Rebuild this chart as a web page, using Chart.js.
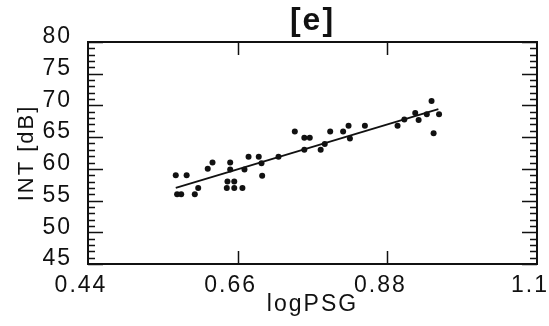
<!DOCTYPE html>
<html>
<head>
<meta charset="utf-8">
<script src="https://cdn.jsdelivr.net/npm/chart.js@4"></script>
<style>
html, body { margin: 0; padding: 0; background: #fff; }
#chart { display: block; }
</style>
</head>
<body>
<canvas id="chart" width="549" height="326"></canvas>
<script>
const logPSG = [0.569, 0.585, 0.571, 0.577, 0.597, 0.602, 0.616, 0.623, 0.649, 0.649,
                0.645, 0.655, 0.644, 0.655, 0.667, 0.670, 0.676, 0.691, 0.695, 0.696,
                0.720, 0.744, 0.758, 0.766, 0.758, 0.782, 0.788, 0.796, 0.815, 0.823,
                0.825, 0.847, 0.895, 0.905, 0.921, 0.926, 0.938, 0.945, 0.948, 0.956];
const intDB  = [59.0, 59.0, 56.0, 56.0, 56.0, 57.0, 60.0, 61.0, 61.0, 59.9,
                58.0, 58.0, 57.0, 57.0, 57.0, 59.9, 61.9, 61.9, 60.9, 58.9,
                61.9, 65.9, 64.9, 64.9, 63.0, 63.0, 63.9, 65.9, 65.9, 66.8,
                64.8, 66.8, 66.8, 67.8, 68.8, 67.7, 68.6, 70.7, 65.6, 68.6];

// regression line ends
const fitX = [0.569, 0.955];
const fitY = [57.0, 69.4];

const xTicks = [0.44, 0.66, 0.88, 1.1];
const xTickLabels = ['0.44', '0.66', '0.88', '1.1'];
const yMin = 45, yMax = 80, yStep = 5, yMinorStep = 1;

const ink = '#111';
const family = '"Liberation Sans", Arial, Helvetica, sans-serif';

// box round the plot, ticks pointing inwards
const frame = {
    id: 'frame',
    beforeUpdate(chart) { chart.ctx.letterSpacing = '2px'; },
    beforeDraw(chart) { chart.ctx.letterSpacing = '2px'; },
    afterDatasetsDraw(chart) {
        const {ctx, chartArea: a, scales: {x, y}} = chart;
        ctx.save();
        ctx.strokeStyle = ink;
        ctx.lineWidth = 2;
        ctx.strokeRect(a.left, a.top, a.right - a.left, a.bottom - a.top);
        ctx.lineWidth = 1.5;
        ctx.beginPath();
        for (let v = yMin; v <= yMax; v += yMinorStep) {
            const py = Math.round(y.getPixelForValue(v)) + 0.5;
            const len = v % yStep === 0 ? 15 : 7;
            ctx.moveTo(a.left, py); ctx.lineTo(a.left + len, py);
            ctx.moveTo(a.right, py); ctx.lineTo(a.right - len, py);
        }
        xTicks.slice(1, -1).forEach(v => {
            const px = Math.round(x.getPixelForValue(v)) + 0.5;
            ctx.moveTo(px, a.top); ctx.lineTo(px, a.top + 13);
            ctx.moveTo(px, a.bottom); ctx.lineTo(px, a.bottom - 13);
        });
        ctx.stroke();
        ctx.restore();
    }
};

new Chart(document.getElementById('chart').getContext('2d'), {
    type: 'scatter',
    data: {
        datasets: [{
            data: logPSG.map((v, i) => ({x: v, y: intDB[i]})),
            pointRadius: 3,
            pointBackgroundColor: ink,
            pointBorderWidth: 0
        }, {
            data: fitX.map((v, i) => ({x: v, y: fitY[i]})),
            showLine: true,
            borderColor: ink,
            borderWidth: 1.8,
            pointRadius: 0
        }]
    },
    options: {
        responsive: false,
        animation: false,
        layout: { padding: { top: 0, right: 12, bottom: 0, left: 0 } },
        scales: {
            x: {
                type: 'linear',
                min: xTicks[0],
                max: xTicks[xTicks.length - 1],
                afterBuildTicks: s => { s.ticks = xTicks.map(v => ({value: v})); },
                afterFit: s => { s.height = 62; s.paddingLeft = 0; s.paddingRight = 0; },
                grid: { display: false, drawTicks: false },
                border: { display: false },
                ticks: {
                    autoSkip: false,
                    maxRotation: 0,
                    padding: 8,
                    labelOffset: -7,
                    color: ink,
                    font: { family: family, size: 23 },
                    callback: (v, i) => xTickLabels[i]
                },
                title: {
                    display: true,
                    text: 'logPSG',
                    color: ink,
                    font: { family: family, size: 23 },
                    padding: { top: 0, bottom: 8 }
                }
            },
            y: {
                min: yMin,
                max: yMax,
                afterFit: s => { s.width = 88; s.paddingTop = 0; s.paddingBottom = 0; },
                grid: { display: false, drawTicks: false },
                border: { display: false },
                ticks: {
                    stepSize: yStep,
                    padding: 16,
                    labelOffset: -5,
                    color: ink,
                    font: { family: family, size: 23 }
                },
                title: {
                    display: true,
                    text: 'INT [dB]',
                    color: ink,
                    font: { family: family, size: 22 },
                    padding: { top: 14, bottom: 0 }
                }
            }
        },
        plugins: {
            legend: { display: false },
            tooltip: { enabled: false },
            title: {
                display: true,
                text: '[e]',
                fullSize: false,
                color: ink,
                font: { family: family, size: 32, weight: 'bold' },
                padding: { top: 2, bottom: 1.6 }
            }
        }
    },
    plugins: [frame]
});
</script>
</body>
</html>
